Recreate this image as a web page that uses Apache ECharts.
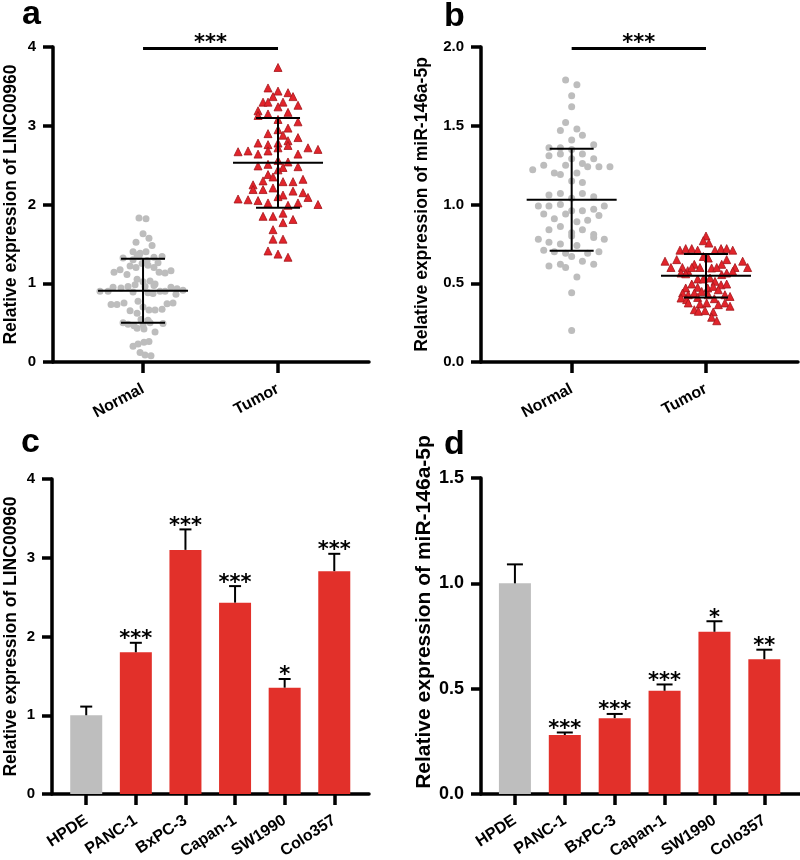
<!DOCTYPE html>
<html>
<head>
<meta charset="utf-8">
<script src="https://cdn.jsdelivr.net/npm/echarts@6/dist/echarts.min.js"></script>
<style>
html,body{margin:0;padding:0;background:#fff;}
#chart{width:800px;height:860px;}
</style>
</head>
<body>
<div id="chart"></div>
<script>
// ---------- DATA ----------
const groupNames = ['Normal', 'Tumor'];
const cellLines = ['HPDE', 'PANC-1', 'BxPC-3', 'Capan-1', 'SW1990', 'Colo357'];

const aNormal = [
  [-0.030,1.83],[0.022,1.82],[0,1.63],[0.044,1.57],[-0.052,1.52],[0.067,1.48],[-0.074,1.40],[-0.022,1.38],[0.022,1.40],[-0.044,1.36],
  [-0.148,1.32],[-0.074,1.30],[-0.030,1.34],[0.030,1.29],[0.081,1.33],[0.141,1.34],
  [-0.096,1.22],[-0.052,1.20],[-0.007,1.25],[0.037,1.23],[0.081,1.20],[0.111,1.26],
  [-0.215,1.14],[-0.170,1.17],[-0.119,1.11],[0.119,1.14],[0.163,1.13],[0.207,1.16],
  [-0.044,1.05],[0,1.02],[0.052,1.03],[0.089,0.99],
  [-0.222,0.95],[-0.163,0.94],[-0.111,0.96],[-0.059,0.98],[0.015,0.96],[0.081,0.97],[0.207,0.95],[0.252,0.93],
  [-0.319,0.90],[-0.259,0.90],[-0.074,0.89],[0.037,0.88],[0.074,0.87],[0.126,0.90],[0.163,0.90],[0.296,0.91],[0.244,0.86],
  [-0.237,0.73],[-0.193,0.73],[-0.141,0.75],[-0.037,0.77],[0.178,0.74],[0.222,0.75],
  [-0.096,0.65],[-0.044,0.62],[0,0.70],[0.044,0.66],[0.089,0.66],[0.141,0.67],
  [-0.015,0.54],[0.037,0.53],[-0.148,0.50],[-0.111,0.48],[-0.067,0.46],[0,0.47],[0.052,0.50],[0.148,0.49],
  [-0.044,0.43],[0.007,0.42],[0.089,0.38],
  [-0.074,0.20],[-0.037,0.23],[0.007,0.25],[0.044,0.26],
  [-0.022,0.12],[0.015,0.09],[0.059,0.08]
];
const aTumor = [
  [0,3.74],[-0.074,3.48],[0,3.44],[0.074,3.42],[-0.037,3.37],[0.111,3.37],[-0.111,3.30],[-0.074,3.30],[0.037,3.30],[0,3.24],[0.148,3.26],
  [-0.148,3.19],[-0.148,3.13],[-0.074,3.15],[0.074,3.17],[0,3.08],[0.148,3.05],
  [0,2.95],[-0.074,2.90],[0.074,2.97],[0.037,2.88],[0.148,2.85],
  [-0.148,2.78],[-0.074,2.76],[0,2.78],[0.074,2.81],[0.074,2.75],[0,2.72],
  [-0.296,2.67],[-0.222,2.68],[-0.074,2.68],[0.222,2.72],[0.296,2.70],[-0.148,2.64],[0.148,2.64],
  [-0.148,2.49],[-0.074,2.51],[0,2.56],[0.074,2.54],[0.148,2.48],[0.037,2.47],[0,2.44],
  [-0.074,2.38],[-0.037,2.35],[-0.111,2.30],[0.037,2.29],[0.111,2.29],[0.185,2.32],
  [-0.185,2.25],[-0.185,2.19],[-0.111,2.19],[-0.037,2.21],[0.111,2.17],[0.185,2.15],[0.222,2.09],[0.037,2.12],
  [-0.296,2.07],[-0.222,2.06],[-0.148,2.05],[-0.074,2.02],[0,2.10],[0.074,1.99],[0.148,2.02],[0.296,2.00],
  [-0.111,1.85],[-0.037,1.85],[0.037,1.89],[0.111,1.81],[0.037,1.77],[-0.037,1.68],[-0.037,1.56],[0.037,1.56],
  [-0.074,1.41],[0,1.37],[0.074,1.33]
];
const bNormal = [
  [-0.045,1.79],[0.039,1.76],[0,1.69],[0,1.62],[-0.045,1.52],[-0.084,1.47],[0.039,1.48],[0.080,1.44],[0,1.41],[0.164,1.38],
  [-0.169,1.36],[-0.084,1.36],[0,1.35],[-0.084,1.32],[0.080,1.32],[-0.169,1.31],[0,1.29],[0.164,1.29],
  [-0.208,1.25],[-0.045,1.25],[0.080,1.26],[0.119,1.24],[0.203,1.24],[0.285,1.24],[-0.290,1.22],[-0.129,1.20],[-0.084,1.19],[0.039,1.20],
  [0,1.15],[0.080,1.14],
  [-0.169,1.06],[-0.084,1.07],[0.080,1.07],[0.164,1.05],[0,1.04],
  [-0.248,0.99],[-0.169,0.99],[-0.084,1.00],[0.243,0.99],
  [-0.208,0.94],[-0.045,0.94],[0.080,0.96],[0.164,0.97],[0.203,0.93],[0,0.96],
  [-0.129,0.91],[0.039,0.89],[0.119,0.90],
  [-0.084,0.86],[-0.169,0.84],[0.080,0.84],[0,0.82],[0,0.80],[0.164,0.81],[0.164,0.79],
  [-0.248,0.78],[0.243,0.78],[-0.169,0.76],[-0.084,0.75],[0.039,0.74],
  [-0.208,0.71],[-0.129,0.70],[0.203,0.70],[-0.045,0.69],[0.119,0.69],[0,0.67],
  [0.080,0.64],[0.164,0.62],[-0.169,0.61],[-0.084,0.62],[-0.045,0.60],
  [0.039,0.54],[0,0.44],[0,0.20]
];
const bTumor = [
  [0,0.80],[-0.020,0.77],[0.022,0.755],
  [-0.194,0.71],[-0.151,0.72],[-0.106,0.72],[-0.062,0.71],[0.067,0.71],[0.112,0.72],[0.154,0.72],[0.199,0.71],
  [-0.020,0.67],[0.017,0.66],[0.154,0.65],
  [-0.305,0.64],[-0.218,0.65],[-0.261,0.60],[-0.087,0.62],[0.273,0.64],[0.310,0.60],[0.216,0.60],[0.117,0.62],
  [-0.176,0.60],[-0.136,0.58],[-0.106,0.60],[-0.186,0.565],[-0.151,0.56],
  [-0.045,0.60],[0.042,0.597],[0.080,0.60],
  [0.154,0.565],[0.199,0.575],[0.117,0.555],
  [-0.062,0.527],[-0.020,0.527],[0.030,0.533],[0.067,0.512],
  [-0.106,0.495],[0.112,0.49],[0.154,0.495],
  [-0.151,0.47],[-0.062,0.474],[0.013,0.47],[0.054,0.48],[0.092,0.459],
  [-0.174,0.438],[-0.132,0.427],[-0.087,0.438],[-0.032,0.448],[0.017,0.427],
  [0.141,0.427],[0.179,0.416],
  [-0.186,0.406],[-0.144,0.396],[-0.062,0.41],[0.062,0.402],
  [-0.132,0.375],[-0.045,0.368],[0.005,0.375],[0.092,0.364],[0.141,0.375],[0.179,0.354],
  [-0.087,0.332],[-0.057,0.322],[-0.007,0.326],[0.054,0.318],
  [0.042,0.284],[0.080,0.262]
];
const aStats = [[0.905, 0.50, 1.31], [2.53, 1.96, 3.10]];
const bStats = [[1.03, 0.707, 1.354], [0.548, 0.41, 0.686]];
const aSig = '***', bSig = '***';
const aSigLevel = 3.98, bSigLevel = 1.99;

const cValues = [1.00, 1.80, 3.10, 2.43, 1.35, 2.83];
const cErrors = [0.11, 0.12, 0.26, 0.21, 0.11, 0.22];
const cStars  = ['', '***', '***', '***', '*', '***'];
const dValues = [1.00, 0.28, 0.36, 0.49, 0.77, 0.64];
const dErrors = [0.09, 0.012, 0.02, 0.03, 0.05, 0.045];
const dStars  = ['', '***', '***', '***', '*', '**'];

// ---------- STYLE ----------
const FONT = '"Liberation Sans", Arial, sans-serif';
const STARFONT = 'bold 21px "DejaVu Sans", sans-serif';
const RED = '#E2302A', GRAY = '#BEBEBE', DOT = '#BDBDBD';
const AXW = 3.5;

const chart = echarts.init(document.getElementById('chart'), null, {renderer: 'canvas'});

function yAxisCfg(grid, max, interval, name, gap, nameSize, labelSize, fmt, namePad) {
  return {
    type: 'value', gridIndex: grid, min: 0, max: max, interval: interval,
    name: name, nameLocation: 'middle', nameGap: gap, nameRotate: 90,
    nameTextStyle: {fontFamily: FONT, fontWeight: 'bold', fontSize: nameSize, color: '#000', padding: namePad || 0},
    axisLine: {show: true, onZero: false, lineStyle: {color: '#000', width: AXW}},
    axisTick: {show: true, length: 10, lineStyle: {color: '#000', width: AXW}},
    axisLabel: {fontFamily: FONT, fontWeight: 'bold', fontSize: labelSize, color: '#000', margin: 17, formatter: fmt},
    splitLine: {show: false}
  };
}
function xAxisCfg(grid, min, max, ticks, names, rotate, margin) {
  return {
    type: 'value', gridIndex: grid, min: min, max: max,
    axisLine: {show: true, onZero: false, lineStyle: {color: '#000', width: AXW}},
    axisTick: {show: true, length: 11, customValues: ticks, lineStyle: {color: '#000', width: AXW}},
    axisLabel: {customValues: ticks, rotate: rotate, margin: margin, fontFamily: FONT, fontWeight: 'bold', fontSize: 16, color: '#000',
      formatter: function (v) { return names[Math.round(v - ticks[0])] || ''; }},
    splitLine: {show: false}
  };
}

function swarm(points, center) { return points.map(p => [center + p[0], p[1]]); }

function statSeries(xi, stats) {
  return {
    type: 'custom', xAxisIndex: xi, yAxisIndex: xi, z: 3, silent: true,
    data: stats.map((s, i) => [i + 1, s[0], s[1], s[2]]),
    renderItem: function (params, api) {
      const x = api.value(0), m = api.value(1), lo = api.value(2), hi = api.value(3);
      const pm = api.coord([x, m]), pl = api.coord([x, lo]), ph = api.coord([x, hi]);
      const st = {stroke: '#000', lineWidth: 2};
      return {type: 'group', children: [
        {type: 'line', shape: {x1: pm[0], y1: ph[1], x2: pm[0], y2: pl[1]}, style: st},
        {type: 'line', shape: {x1: pm[0] - 45, y1: pm[1], x2: pm[0] + 45, y2: pm[1]}, style: st},
        {type: 'line', shape: {x1: pm[0] - 22, y1: ph[1], x2: pm[0] + 22, y2: ph[1]}, style: st},
        {type: 'line', shape: {x1: pm[0] - 22, y1: pl[1], x2: pm[0] + 22, y2: pl[1]}, style: st}
      ]};
    }
  };
}
function sigSeries(xi, level, stars) {
  return {
    type: 'custom', xAxisIndex: xi, yAxisIndex: xi, z: 5, silent: true,
    data: [[1, 2, level]],
    renderItem: function (params, api) {
      const p1 = api.coord([api.value(0), api.value(2)]), p2 = api.coord([api.value(1), api.value(2)]);
      return {type: 'group', children: [
        {type: 'line', shape: {x1: p1[0], y1: p1[1], x2: p2[0], y2: p2[1]}, style: {stroke: '#000', lineWidth: 3}},
        {type: 'text', style: {text: stars, x: (p1[0] + p2[0]) / 2, y: p1[1] - 5, align: 'center', verticalAlign: 'middle', font: STARFONT, fill: '#000'}}
      ]};
    }
  };
}
function barSeries(xi, values) {
  return {
    type: 'bar', xAxisIndex: xi, yAxisIndex: xi, barWidth: 32, z: 2, silent: true,
    data: values.map((v, i) => ({value: [i, v], itemStyle: {color: i === 0 ? GRAY : RED}}))
  };
}
function barErrSeries(xi, values, errors, stars, cap) {
  return {
    type: 'custom', xAxisIndex: xi, yAxisIndex: xi, z: 3, silent: true,
    data: values.map((v, i) => [i, v, errors[i], i]),
    renderItem: function (params, api) {
      const x = api.value(0), v = api.value(1), e = api.value(2), idx = api.value(3);
      const p0 = api.coord([x, v]), p1 = api.coord([x, v + e]);
      const st = {stroke: '#000', lineWidth: 2};
      const kids = [
        {type: 'line', shape: {x1: p0[0], y1: p0[1], x2: p1[0], y2: p1[1]}, style: st},
        {type: 'line', shape: {x1: p1[0] - cap, y1: p1[1], x2: p1[0] + cap, y2: p1[1]}, style: st}
      ];
      if (stars[idx]) kids.push({type: 'text', style: {text: stars[idx], x: p1[0], y: p1[1] - 3, align: 'center', verticalAlign: 'middle', font: STARFONT, fill: '#000'}});
      return {type: 'group', children: kids};
    }
  };
}

const option = {
  backgroundColor: '#fff',
  animation: false,
  grid: [
    {left: 53, top: 47, width: 316, height: 315, outerBoundsMode: 'none'},
    {left: 481, top: 47, width: 317, height: 315, outerBoundsMode: 'none'},
    {left: 52, top: 479, width: 317, height: 315, outerBoundsMode: 'none'},
    {left: 481, top: 478, width: 319, height: 316, outerBoundsMode: 'none'}
  ],
  xAxis: [
    xAxisCfg(0, 1 - 0.667, 2 + 0.674, [1, 2], groupNames, 28, 26),
    xAxisCfg(1, 1 - 0.675, 2 + 0.685, [1, 2], groupNames, 28, 26),
    xAxisCfg(2, -0.69, 5.70, [0, 1, 2, 3, 4, 5], cellLines, 33, 25),
    xAxisCfg(3, -0.68, 5.715, [0, 1, 2, 3, 4, 5], cellLines, 33, 25)
  ],
  yAxis: [
    yAxisCfg(0, 4, 1, 'Relative expression of LINC00960', 33, 17.5, 15, v => String(v)),
    yAxisCfg(1, 2, 0.5, 'Relative expression of miR-146a-5p', 50, 17.5, 15, v => v.toFixed(1)),
    yAxisCfg(2, 4, 1, 'Relative expression of LINC00960', 32, 17.5, 15, v => String(v)),
    yAxisCfg(3, 1.5, 0.5, 'Relative expression of miR-146a-5p', 46, 21, 18, v => v.toFixed(1), [0, 0, 0, 48])
  ],
  graphic: [
    {type: 'text', x: 22, y: 32, style: {text: 'a', font: 'bold 34px ' + FONT, fill: '#000', verticalAlign: 'bottom'}},
    {type: 'text', x: 444, y: 34, style: {text: 'b', font: 'bold 34px ' + FONT, fill: '#000', verticalAlign: 'bottom'}},
    {type: 'text', x: 21, y: 460, style: {text: 'c', font: 'bold 34px ' + FONT, fill: '#000', verticalAlign: 'bottom'}},
    {type: 'text', x: 444, y: 462, style: {text: 'd', font: 'bold 34px ' + FONT, fill: '#000', verticalAlign: 'bottom'}}
  ],
  series: [
    {type: 'scatter', xAxisIndex: 0, yAxisIndex: 0, z: 2, silent: true, symbol: 'circle', symbolSize: 7,
      itemStyle: {color: DOT, opacity: 1}, data: swarm(aNormal, 1)},
    {type: 'scatter', xAxisIndex: 0, yAxisIndex: 0, z: 2, silent: true, symbol: 'triangle', symbolSize: 8,
      itemStyle: {color: '#E2242B', borderColor: '#A3161C', borderWidth: 0.8, opacity: 1}, data: swarm(aTumor, 2)},
    statSeries(0, aStats),
    sigSeries(0, aSigLevel, aSig),
    {type: 'scatter', xAxisIndex: 1, yAxisIndex: 1, z: 2, silent: true, symbol: 'circle', symbolSize: 7,
      itemStyle: {color: DOT, opacity: 1}, data: swarm(bNormal, 1)},
    {type: 'scatter', xAxisIndex: 1, yAxisIndex: 1, z: 2, silent: true, symbol: 'triangle', symbolSize: 8,
      itemStyle: {color: '#E2242B', borderColor: '#A3161C', borderWidth: 0.8, opacity: 1}, data: swarm(bTumor, 2)},
    statSeries(1, bStats),
    sigSeries(1, bSigLevel, bSig),
    barSeries(2, cValues),
    barErrSeries(2, cValues, cErrors, cStars, 6),
    barSeries(3, dValues),
    barErrSeries(3, dValues, dErrors, dStars, 8)
  ]
};
chart.setOption(option);
</script>
</body>
</html>
